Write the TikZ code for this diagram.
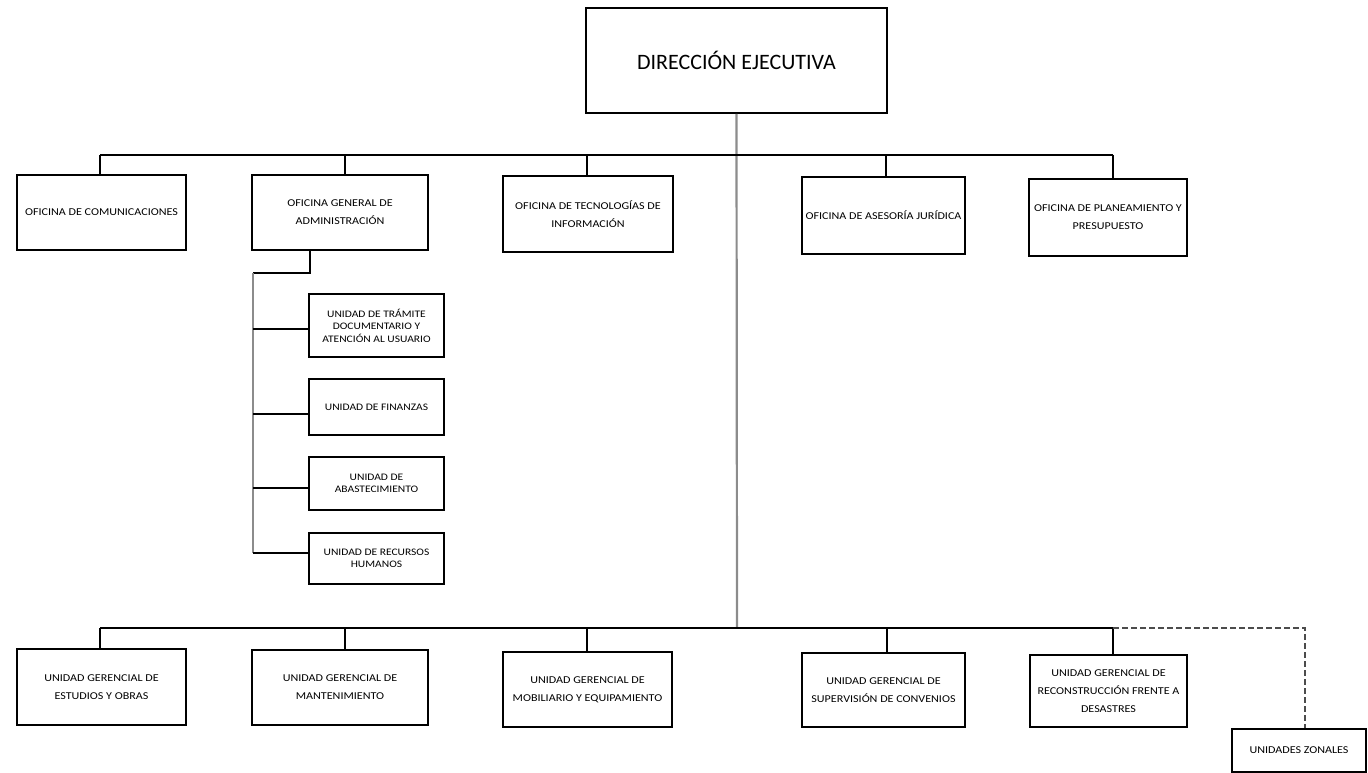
\documentclass[tikz,border=0pt]{standalone}
\usepackage{fontspec}
\setmainfont{Carlito}
\newfontfamily\labfont[FakeStretch=1.15]{Carlito}
\begin{document}
\begin{tikzpicture}[x=1pt,y=-1pt,
  box/.style={draw=black,line width=1.6pt,rectangle,inner sep=0pt,align=center,fill=white},
  lab/.style={font=\labfont\fontsize{10.5}{18}\selectfont},
  sublab/.style={font=\labfont\fontsize{10}{12.5}\selectfont},
  conn/.style={draw=black,line width=1.6pt},
  trunk/.style={draw=black!45,line width=2.2pt},
  dashconn/.style={draw=black!70,line width=1.6pt,dash pattern=on 6pt off 3pt}
]
\useasboundingbox (0,0) rectangle (1368,773);
% top
\node[box,minimum width=301pt,minimum height=105pt,font=\fontsize{22}{26}\selectfont] (DE) at (736.5,60.5) {DIRECCIÓN EJECUTIVA};
% first row
\node[box,lab,minimum width=169pt,minimum height=75pt] (OC) at (101.5,212.5) {OFICINA DE COMUNICACIONES};
\node[box,lab,minimum width=176pt,minimum height=75pt] (OGA) at (340,212.5) {OFICINA GENERAL DE\\ADMINISTRACIÓN};
\node[box,lab,minimum width=170pt,minimum height=76pt] (OTI) at (588,214) {OFICINA DE TECNOLOGÍAS DE\\INFORMACIÓN};
\node[box,lab,minimum width=163pt,minimum height=77pt] (OAJ) at (883.5,215.5) {OFICINA DE ASESORÍA JURÍDICA};
\node[box,lab,minimum width=158pt,minimum height=77pt] (OPP) at (1108,217.5) {OFICINA DE PLANEAMIENTO Y\\PRESUPUESTO};
% sub-units
\node[box,sublab,minimum width=135pt,minimum height=63pt] (UTD) at (376.5,325.5) {UNIDAD DE TRÁMITE\\DOCUMENTARIO Y\\ATENCIÓN AL USUARIO};
\node[box,sublab,minimum width=135pt,minimum height=56pt] (UF) at (376.5,407) {UNIDAD DE FINANZAS};
\node[box,sublab,minimum width=135pt,minimum height=53pt] (UA) at (376.5,483.5) {UNIDAD DE\\ABASTECIMIENTO};
\node[box,sublab,minimum width=135pt,minimum height=51pt] (URH) at (376.5,558.5) {UNIDAD DE RECURSOS\\HUMANOS};
% bottom row
\node[box,lab,minimum width=169pt,minimum height=76pt] (UGEO) at (101.5,687) {UNIDAD GERENCIAL DE\\ESTUDIOS Y OBRAS};
\node[box,lab,minimum width=176pt,minimum height=75pt] (UGM) at (340,687.5) {UNIDAD GERENCIAL DE\\MANTENIMIENTO};
\node[box,lab,minimum width=169pt,minimum height=75pt] (UGME) at (587.5,689.5) {UNIDAD GERENCIAL DE\\MOBILIARIO Y EQUIPAMIENTO};
\node[box,lab,minimum width=163pt,minimum height=74pt] (UGSC) at (883.5,690) {UNIDAD GERENCIAL DE\\SUPERVISIÓN DE CONVENIOS};
\node[box,lab,minimum width=157pt,minimum height=72pt] (UGRD) at (1108.5,691) {UNIDAD GERENCIAL DE\\RECONSTRUCCIÓN FRENTE A\\DESASTRES};
\node[box,lab,minimum width=134pt,minimum height=43pt] (UZ) at (1299,750.5) {UNIDADES ZONALES};
% junction coordinates
\coordinate (bc) at (737,628);
\coordinate (t1) at (100,155);
\coordinate (t2) at (345,155);
\coordinate (t3) at (587,155);
\coordinate (t4) at (886,155);
\coordinate (t5) at (1113,155);
\coordinate (b1) at (100,628);
\coordinate (b2) at (345,628);
\coordinate (b3) at (587,628);
\coordinate (b4) at (887,628);
\coordinate (b5) at (1113,628);
\coordinate (b6) at (1305,628);
\coordinate (s0) at (310,273);
\coordinate (s1) at (253,273);
\coordinate (r1) at (253,329);
\coordinate (r2) at (253,414);
\coordinate (r3) at (253,488);
\coordinate (r4) at (253,553);
% trunk
\draw[trunk] (DE.south) -- (bc);
% top bar and drops
\draw[conn] (t1) -- (t5);
\draw[conn] (t1) -- (t1 |- OC.north);
\draw[conn] (t2) -- (t2 |- OGA.north);
\draw[conn] (t3) -- (t3 |- OTI.north);
\draw[conn] (t4) -- (t4 |- OAJ.north);
\draw[conn] (t5) -- (t5 |- OPP.north);
% sub-unit tree
\draw[conn] (s0 |- OGA.south) -- (s0) -- (s1);
\draw[trunk] (s1) -- (r4);
\draw[conn] (r1) -- (r1 -| UTD.west);
\draw[conn] (r2) -- (r2 -| UF.west);
\draw[conn] (r3) -- (r3 -| UA.west);
\draw[conn] (r4) -- (r4 -| URH.west);
% bottom bar and drops
\draw[conn] (b1) -- (b5);
\draw[conn] (b1) -- (b1 |- UGEO.north);
\draw[conn] (b2) -- (b2 |- UGM.north);
\draw[conn] (b3) -- (b3 |- UGME.north);
\draw[conn] (b4) -- (b4 |- UGSC.north);
\draw[conn] (b5) -- (b5 |- UGRD.north);
\draw[dashconn] (b5) -- (b6) -- (b6 |- UZ.north);
\end{tikzpicture}
\end{document}
